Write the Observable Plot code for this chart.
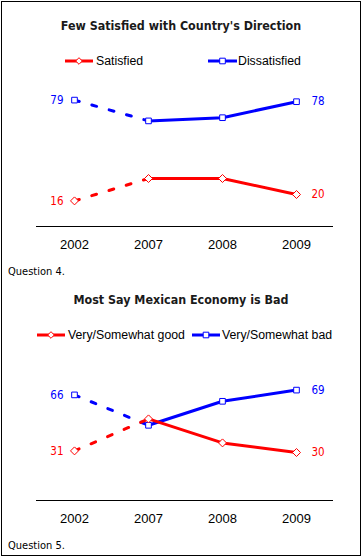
<!DOCTYPE html>
<html><head><meta charset="utf-8">
<script src="https://cdn.jsdelivr.net/npm/d3@7"></script>
<script src="https://cdn.jsdelivr.net/npm/@observablehq/plot@0.6"></script>
<style>
body{margin:0;background:#fff;}
#wrap{position:relative;width:362px;height:557px;overflow:hidden;background:#fff;}
.frame{position:absolute;left:1px;top:1px;width:360px;height:555px;box-sizing:border-box;border:1px solid #000;pointer-events:none;}
.plot{position:absolute;left:0;}
.title{position:absolute;left:0;width:362px;text-align:center;font-family:"DejaVu Sans Condensed","DejaVu Sans";font-weight:bold;font-size:12.4px;line-height:16px;color:#1a1a1a;white-space:nowrap;}
.leg{position:absolute;font-family:"Liberation Sans",Arial;font-size:12.3px;line-height:16px;color:#000;white-space:nowrap;}
.cap{position:absolute;left:8px;font-family:"DejaVu Sans Condensed","DejaVu Sans";font-size:11px;line-height:14px;color:#000;white-space:nowrap;}
svg.legsvg{position:absolute;left:0;top:0;overflow:visible;}
</style>
</head><body>
<div id="wrap"></div>
<script>
const years = ["2002", "2007", "2008", "2009"];
const satisfied = [16, 30, 30, 20];
const dissatisfied = [79, 66, 68, 78];
const econGood = [31, 51, 36, 30];
const econBad = [66, 47, 62, 69];

const title1 = "Few Satisfied with Country's Direction";
const title2 = "Most Say Mexican Economy is Bad";
const legend1 = ["Satisfied", "Dissatisfied"];
const legend2 = ["Very/Somewhat good", "Very/Somewhat bad"];
const caption1 = "Question 4.";
const caption2 = "Question 5.";

const RED = "#ff0000", BLUE = "#0000ff";
const labelFont = "\"DejaVu Sans Condensed\", \"DejaVu Sans\"";

function rows(vals, name) { return vals.map((v, i) => ({year: years[i], value: v, series: name})); }

function chart(redVals, blueVals) {
  const r = rows(redVals, "red"), b = rows(blueVals, "blue");
  const marks = [Plot.ruleY([0], {stroke: "#000", strokeWidth: 1})];
  for (const [data, color] of [[b, BLUE], [r, RED]]) {
    marks.push(Plot.line(data.slice(0, 2), {x: "year", y: "value", stroke: color, strokeWidth: 3, strokeDasharray: "5,13"}));
    marks.push(Plot.line(data.slice(1), {x: "year", y: "value", stroke: color, strokeWidth: 3}));
  }
  for (const [data, color, sym] of [[b, BLUE, "square2"], [r, RED, "diamond2"]]) {
    marks.push(Plot.dot(data, {x: "year", y: "value", symbol: sym, r: 3.6, fill: "white", stroke: color, strokeWidth: 1}));
    marks.push(Plot.text(data.slice(0, 1), {x: "year", y: "value", text: d => String(d.value), dx: -11, textAnchor: "end", fill: color, fontSize: 11.5, fontFamily: labelFont}));
    marks.push(Plot.text(data.slice(-1), {x: "year", y: "value", text: d => String(d.value), dx: 15, textAnchor: "start", fill: color, fontSize: 11.5, fontFamily: labelFont}));
  }
  marks.push(Plot.axisX({tickSize: 0, tickPadding: 13, fontSize: 13, fontFamily: "Liberation Sans, Arial", label: null, color: "#000"}));
  return Plot.plot({
    width: 362, height: 260,
    marginLeft: 36, marginRight: 29, marginTop: 66, marginBottom: 34,
    x: {type: "point", domain: years, padding: 0.5, label: null},
    y: {domain: [0, 100], axis: null},
    style: {background: "none", overflow: "visible"},
    marks
  });
}

const wrap = document.getElementById("wrap");
function add(el) { wrap.appendChild(el); return el; }
function textDiv(cls, txt, css) { const d = document.createElement("div"); d.className = cls; d.textContent = txt; Object.assign(d.style, css); return add(d); }

const NS = "http://www.w3.org/2000/svg";
const legSvg = document.createElementNS(NS, "svg");
legSvg.setAttribute("class", "legsvg"); legSvg.setAttribute("width", 362); legSvg.setAttribute("height", 557);
function legSample(x0, x1, y, color, sym) {
  const l = document.createElementNS(NS, "line");
  l.setAttribute("x1", x0); l.setAttribute("x2", x1); l.setAttribute("y1", y); l.setAttribute("y2", y);
  l.setAttribute("stroke", color); l.setAttribute("stroke-width", 3);
  legSvg.appendChild(l);
  const cx = (x0 + x1) / 2, s = 3.3;
  const p = document.createElementNS(NS, "path");
  if (sym === "diamond") p.setAttribute("d", `M${cx},${y - s}L${cx + s},${y}L${cx},${y + s}L${cx - s},${y}Z`);
  else p.setAttribute("d", `M${cx - s + 0.5},${y - s + 0.5}h${2 * s - 1}v${2 * s - 1}h${-(2 * s - 1)}Z`);
  p.setAttribute("fill", "white"); p.setAttribute("stroke", color); p.setAttribute("stroke-width", 1);
  legSvg.appendChild(p);
}

const OFF = 274;
[[satisfied, dissatisfied, 0], [econGood, econBad, OFF]].forEach(([a, b, off]) => {
  const p = chart(a, b);
  p.classList.add("plot");
  p.style.position = "absolute"; p.style.top = off + "px"; p.style.left = "0px";
  add(p);
});

textDiv("title", title1, {top: (26 - 8) + "px"});
textDiv("title", title2, {top: (26 + OFF - 8) + "px"});

legSample(65, 93, 61, RED, "diamond");
legSample(208, 237, 61, BLUE, "square");
legSample(37, 65, 61 + OFF, RED, "diamond");
legSample(192, 220, 61 + OFF, BLUE, "square");
add(legSvg);
textDiv("leg", legend1[0], {left: "96px", top: (61 - 8) + "px"});
textDiv("leg", legend1[1], {left: "238px", top: (61 - 8) + "px"});
textDiv("leg", legend2[0], {left: "68px", top: (61 + OFF - 8) + "px"});
textDiv("leg", legend2[1], {left: "222px", top: (61 + OFF - 8) + "px"});

textDiv("cap", caption1, {top: (272 - 7) + "px"});
textDiv("cap", caption2, {top: (272 + OFF - 7) + "px"});

const f = document.createElement("div"); f.className = "frame"; add(f);
</script>
</body></html>
